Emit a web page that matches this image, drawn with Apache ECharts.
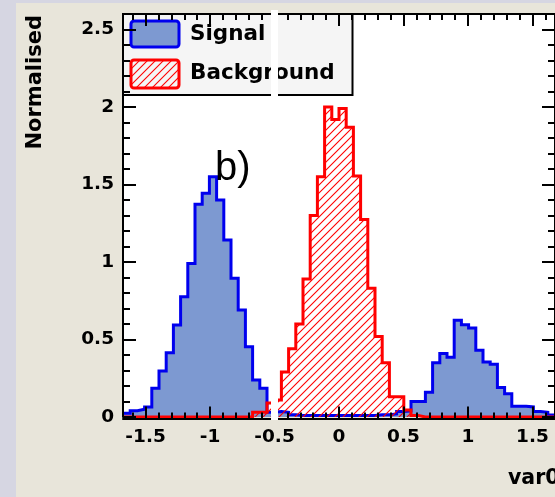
<!DOCTYPE html>
<html><head><meta charset="utf-8">
<script src="https://cdn.jsdelivr.net/npm/echarts@6/dist/echarts.min.js"></script>
<style>html,body{margin:0;padding:0;background:#d6d6e2;}#c{width:555px;height:497px;}</style>
</head><body><div id="c"></div>
<script>
// ---- data ----
const xMin = -1.675, xMax = 1.675, nBins = 60;
const yMin = 0, yMax = 2.6;
const xMajorTicks = [-1.5, -1, -0.5, 0, 0.5, 1, 1.5];
const xMinorTicks = [-1.6,-1.4,-1.3,-1.2,-1.1,-0.9,-0.8,-0.7,-0.6,-0.4,-0.3,-0.2,-0.1,0.1,0.2,0.3,0.4,0.6,0.7,0.8,0.9,1.1,1.2,1.3,1.4,1.6];
const yMajorTicks = [0, 0.5, 1, 1.5, 2, 2.5];
const yMinorTicks = [0.1,0.2,0.3,0.4,0.6,0.7,0.8,0.9,1.1,1.2,1.3,1.4,1.6,1.7,1.8,1.9,2.1,2.2,2.3,2.4,2.6];
const seriesNames = ['Signal', 'Background'];
const signal = [0.025,0.04,0.05,0.065,0.185,0.297,0.415,0.594,0.776,0.99,
  1.372,1.443,1.55,1.40,1.142,0.895,0.69,0.454,0.239,0.185,
  0.03,0.035,0.03,0.015,0.01,0.01,0.01,0.01,0.01,0.01,
  0.01,0.01,0.01,0.01,0.01,0.015,0.015,0.02,0.035,0.04,
  0.1,0.1,0.16,0.35,0.41,0.385,0.625,0.595,0.575,0.43,
  0.355,0.34,0.19,0.15,0.07,0.07,0.065,0.035,0.03,0.013];
const background = [0,0,0,0,0,0,0,0,0,0,
  0,0,0,0,0,0,0,0,0.03,0.03,
  0.09,0.11,0.29,0.44,0.6,0.89,1.3,1.55,2.0,1.92,
  1.99,1.87,1.555,1.275,0.83,0.52,0.35,0.13,0.13,0.045,
  0.01,0,0,0,0,0,0,0,0,0,
  0,0,0,0,0,0,0,0,0,0];
const xTitle = 'var0', yTitle = 'Normalised', panelLabel = 'b)';

// ---- helpers ----
const binWidth = (xMax - xMin) / nBins;
function stepData(vals) {
  const d = vals.map((v, i) => [xMin + i * binWidth, v]);
  d.push([xMax, vals[vals.length - 1]]);
  return d;
}
function hatchCanvas() {
  const c = document.createElement('canvas');
  c.width = 8; c.height = 8;
  const g = c.getContext('2d');
  g.strokeStyle = '#ff0000'; g.lineWidth = 1.1;
  g.beginPath();
  g.moveTo(-1, 9); g.lineTo(9, -1);
  g.moveTo(-1, 1); g.lineTo(1, -1);
  g.moveTo(7, 9); g.lineTo(9, 7);
  g.stroke();
  return c;
}
const hatch = { image: hatchCanvas(), repeat: 'repeat' };
const labelFont = { fontFamily: 'DejaVu Sans', fontWeight: 'bold', fontSize: 18.5, color: '#000' };
const black2 = { color: '#000', width: 2 };

function xAx(pos, major) {
  return {
    type: 'value', min: xMin, max: xMax, position: pos, z: 10,
    offset: pos === 'bottom' ? 1.5 : 0,
    splitLine: { show: false },
    axisLine: { show: major, onZero: false, lineStyle: black2 },
    axisTick: { show: true, inside: true, length: major ? 12 : 6,
      customValues: major ? xMajorTicks : xMinorTicks, lineStyle: black2 },
    axisLabel: (major && pos === 'bottom') ?
      Object.assign({ show: true, customValues: xMajorTicks, margin: 9, hideOverlap: false }, labelFont) :
      { show: false }
  };
}
function yAx(pos, major) {
  return {
    type: 'value', min: yMin, max: yMax, position: pos, z: 10,
    splitLine: { show: false },
    axisLine: { show: major, onZero: false, lineStyle: black2 },
    axisTick: { show: true, inside: true, length: major ? 13 : 7,
      customValues: major ? yMajorTicks : yMinorTicks, lineStyle: black2 },
    axisLabel: (major && pos === 'left') ?
      Object.assign({ show: true, customValues: yMajorTicks, margin: 9, hideOverlap: false }, labelFont) :
      { show: false }
  };
}

const chart = echarts.init(document.getElementById('c'), null, { renderer: 'canvas' });
chart.setOption({
  animation: false,
  backgroundColor: '#e8e5da',
  grid: { left: 123, top: 14, width: 436.5, height: 403, show: true, backgroundColor: '#ffffff', borderWidth: 0, containLabel: false },
  xAxis: [xAx('bottom', true), xAx('bottom', false), xAx('top', true), xAx('top', false)],
  yAxis: [yAx('left', true), yAx('left', false), yAx('right', true), yAx('right', false)],
  series: [
    { name: seriesNames[0], type: 'line', xAxisIndex: 0, yAxisIndex: 0, step: 'end', symbol: 'none', silent: true,
      data: stepData(signal), z: 2, clip: false,
      lineStyle: { color: '#0000ee', width: 3, join: 'miter' },
      areaStyle: { color: '#7d99d1', opacity: 1 } },
    { name: seriesNames[1], type: 'line', xAxisIndex: 0, yAxisIndex: 0, step: 'end', symbol: 'none', silent: true,
      data: stepData(background), z: 3, clip: false,
      lineStyle: { color: '#ff0000', width: 3, join: 'miter' },
      areaStyle: { color: hatch, opacity: 1 } }
  ],
  graphic: [
    { type: 'rect', z: -5, shape: { x: 0, y: 0, width: 16, height: 497 }, style: { fill: '#d6d6e2' } },
    { type: 'rect', z: -5, shape: { x: 0, y: 0, width: 555, height: 3 }, style: { fill: '#d6d6e2' } },
    // legend
    { type: 'rect', z: 5, shape: { x: 123, y: 14, width: 229.5, height: 81 }, style: { fill: '#f5f5f5', stroke: '#000', lineWidth: 2 } },
    { type: 'rect', z: 6, shape: { x: 131, y: 21, width: 48, height: 26, r: 3 }, style: { fill: '#7d99d1', stroke: '#0000ee', lineWidth: 3 } },
    { type: 'rect', z: 6, shape: { x: 131, y: 60, width: 48, height: 28, r: 3 }, style: { fill: hatch, stroke: '#ff0000', lineWidth: 3 } },
    { type: 'text', z: 6, x: 190, y: 34, style: { text: seriesNames[0], font: 'bold 21.5px "DejaVu Sans"', fill: '#000', textAlign: 'left', textVerticalAlign: 'middle' } },
    { type: 'text', z: 6, x: 190, y: 73, style: { text: seriesNames[1], font: 'bold 21.5px "DejaVu Sans"', fill: '#000', textAlign: 'left', textVerticalAlign: 'middle' } },
    // axis titles
    { type: 'text', z: 6, x: 35.5, y: 15, rotation: Math.PI / 2, style: { text: yTitle, font: 'bold 21px "DejaVu Sans"', fill: '#000', textAlign: 'right', textVerticalAlign: 'middle' } },
    { type: 'text', z: 6, x: 559.5, y: 479, style: { text: xTitle, font: 'bold 20.5px "DejaVu Sans"', fill: '#000', textAlign: 'right', textVerticalAlign: 'middle' } },
    // white stripe artifact
    { type: 'rect', z: 50, shape: { x: 271, y: 10, width: 7, height: 410 }, style: { fill: '#ffffff' } },
    // panel label
    { type: 'text', z: 60, x: 215, y: 169, style: { text: panelLabel, font: '40px "Liberation Sans"', fill: '#000', textAlign: 'left', textVerticalAlign: 'middle' } }
  ]
});
</script>
</body></html>
